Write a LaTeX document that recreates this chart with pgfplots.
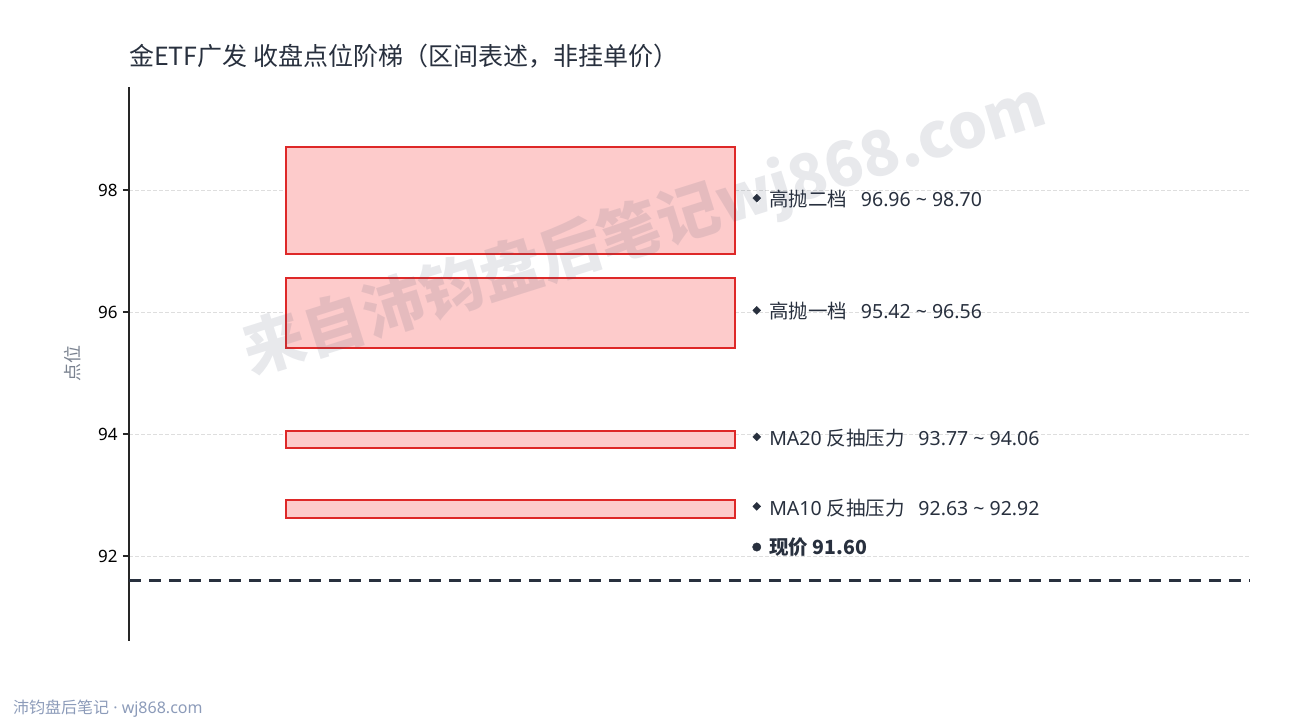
\documentclass[border=0pt]{standalone}
\usepackage{pgfplots}
\pgfplotsset{compat=1.18}
\usepackage{fontspec}
\setmainfont{Noto Sans}
\newfontfamily\cjk{Noto Sans CJK SC}
\definecolor{boxfill}{RGB}{253,203,203}
\definecolor{boxedge}{RGB}{222,40,40}
\definecolor{ink}{RGB}{40,48,62}
\definecolor{gridc}{RGB}{222,222,222}
\definecolor{ylab}{RGB}{122,130,144}
\definecolor{foot}{RGB}{140,155,185}
\definecolor{wm}{RGB}{74,85,110}
\newcommand{\gap}{\hspace{0.7em}}
\begin{document}
\begin{tikzpicture}
\path[use as bounding box] (0bp,0bp) rectangle (1290bp,720bp);
\node[anchor=base west, text=ink, font=\cjk\fontsize{25bp}{28bp}\selectfont, inner sep=0pt] at (129bp,654bp) {金ETF广发 收盘点位阶梯（区间表述，非挂单价）};
\node[anchor=base west, text=foot, font=\fontsize{16bp}{18bp}\selectfont, inner sep=0pt] at (13bp,7bp) {{\cjk 沛钧盘后笔记} · wj868.com};
\node[rotate=90, text=ylab, font=\cjk\fontsize{18bp}{22bp}\selectfont, inner sep=0pt] at (73bp,356bp) {点位};
\begin{axis}[
  at={(129bp,79bp)}, anchor=south west,
  width=1121bp, height=554bp, scale only axis,
  xmin=0, xmax=1, ymin=90.61, ymax=99.69,
  axis x line=none, axis y line*=left,
  axis line style={line width=1.6bp, black!85},
  ytick={92,94,96,98},
  tick align=outside, major tick length=6bp,
  tick style={line width=1.6bp, black!85},
  yticklabel style={font=\fontsize{17bp}{20bp}\selectfont, text=black, xshift=-2bp},
  /pgf/number format/assume math mode=true,
  ymajorgrids, grid style={gridc, line width=0.8bp, dash pattern=on 4bp off 2bp},
  clip=false,
]
% zones
\addplot[fill=boxfill, draw=boxedge, line width=2bp] coordinates {(0.140,96.96) (0.541,96.96) (0.541,98.70) (0.140,98.70)} -- cycle;
\addplot[fill=boxfill, draw=boxedge, line width=2bp] coordinates {(0.140,95.42) (0.541,95.42) (0.541,96.56) (0.140,96.56)} -- cycle;
\addplot[fill=boxfill, draw=boxedge, line width=2bp] coordinates {(0.140,93.77) (0.541,93.77) (0.541,94.06) (0.140,94.06)} -- cycle;
\addplot[fill=boxfill, draw=boxedge, line width=2bp] coordinates {(0.140,92.63) (0.541,92.63) (0.541,92.92) (0.140,92.92)} -- cycle;
% current price
\addplot[ink, line width=2.2bp, dash pattern=on 12bp off 8bp] coordinates {(0,91.60) (1,91.60)};
% label markers
\addplot[only marks, mark=square*, mark size=2.8bp, mark options={rotate=45}, color=ink] coordinates {(0.560,97.87) (0.560,96.03) (0.560,93.955) (0.560,92.815)};
\addplot[only marks, mark=*, mark size=4.2bp, color=ink] coordinates {(0.560,92.15)};
\begin{scope}[every node/.style={anchor=west, text=ink, inner sep=0pt, font=\fontsize{19.5bp}{22bp}\selectfont}]
\node at (axis cs:0.571,97.85) {{\cjk 高抛二档}\gap 96.96 \textasciitilde\ 98.70};
\node at (axis cs:0.571,96.01) {{\cjk 高抛一档}\gap 95.42 \textasciitilde\ 96.56};
\node at (axis cs:0.571,93.935) {MA20 {\cjk 反抽压力}\gap 93.77 \textasciitilde\ 94.06};
\node at (axis cs:0.571,92.795) {MA10 {\cjk 反抽压力}\gap 92.63 \textasciitilde\ 92.92};
\node[font=\cjk\bfseries\fontsize{19.5bp}{22bp}\selectfont] at (axis cs:0.571,92.15) {现价 91.60};
\end{scope}
\end{axis}
\node[rotate=17.5, text=wm, opacity=0.13, font=\cjk\fontsize{62bp}{70bp}\selectfont\bfseries, inner sep=0pt] at (645bp,490bp) {来自沛钧盘后笔记wj868.com};
\end{tikzpicture}
\end{document}
